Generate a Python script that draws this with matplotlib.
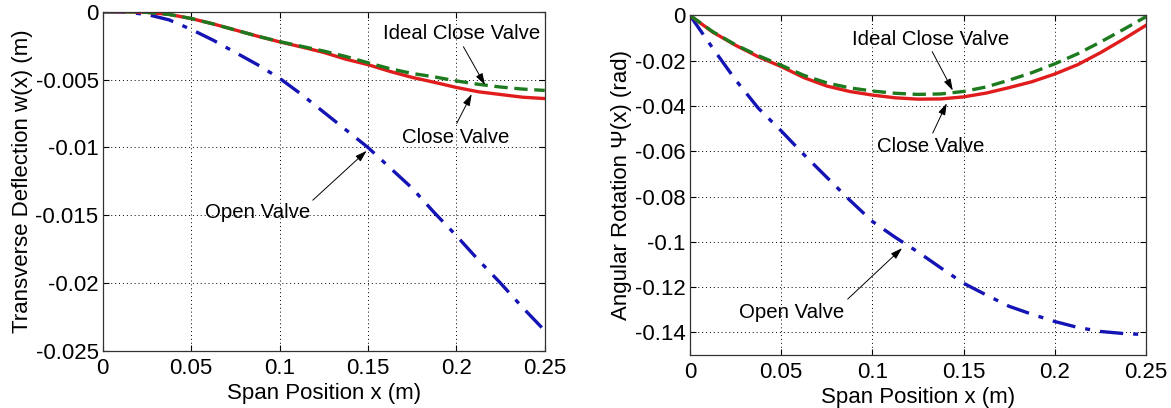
import matplotlib
matplotlib.use("Agg")
import matplotlib.pyplot as plt

plt.rcParams['font.family'] = ['Liberation Sans', 'DejaVu Sans']
plt.rcParams['axes.unicode_minus'] = False

# ---------------- data ----------------
x_span = [0, 0.0125, 0.025, 0.0375, 0.05, 0.0625, 0.075, 0.0875, 0.1, 0.1125, 0.125,
          0.1375, 0.15, 0.1625, 0.175, 0.1875, 0.2, 0.2125, 0.225, 0.2375, 0.25]

# Left: transverse deflection w(x) (m)
w_open = [0, -0.00003, -0.0002, -0.0006, -0.0013, -0.0021, -0.0030, -0.0039, -0.0049,
          -0.0061, -0.0074, -0.0087, -0.0100, -0.0115, -0.0130, -0.0148, -0.0165,
          -0.0183, -0.0200, -0.0218, -0.0235]
w_close = [0, 0, -0.00005, -0.0002, -0.0005, -0.0009, -0.00135, -0.0018, -0.00222,
           -0.0026, -0.0030, -0.0035, -0.0039, -0.0044, -0.00484, -0.0052, -0.00558,
           -0.0059, -0.0061, -0.0063, -0.0064]
w_ideal = [0, 0, -0.00005, -0.0002, -0.0005, -0.0009, -0.00135, -0.0018, -0.0022,
           -0.00255, -0.0029, -0.0033, -0.00376, -0.0042, -0.00455, -0.0048, -0.0051,
           -0.00535, -0.00555, -0.0057, -0.0058]

# Right: angular rotation psi(x) (rad)
psi_open = [0, -0.0145, -0.0285, -0.041, -0.051, -0.0615, -0.0715, -0.0815, -0.091,
            -0.098, -0.1045, -0.1115, -0.1183, -0.1235, -0.1285, -0.132, -0.1352,
            -0.1378, -0.1396, -0.1405, -0.141]
psi_close = [0, -0.0074, -0.0132, -0.0183, -0.0226, -0.0275, -0.0312, -0.0336, -0.0352,
             -0.0364, -0.0370, -0.0369, -0.0360, -0.0343, -0.0319, -0.0293, -0.0259,
             -0.0218, -0.0165, -0.0106, -0.0044]
psi_ideal = [0, -0.0072, -0.0130, -0.0178, -0.0220, -0.0265, -0.0298, -0.0320, -0.0334,
             -0.0344, -0.0349, -0.0347, -0.0336, -0.0316, -0.0286, -0.0253, -0.0214,
             -0.0170, -0.0118, -0.0063, -0.0006]

x_ticks = [0, 0.05, 0.1, 0.15, 0.2, 0.25]
x_ticklabels = ['0', '0.05', '0.1', '0.15', '0.2', '0.25']
w_ticks = [0, -0.005, -0.01, -0.015, -0.02, -0.025]
w_ticklabels = ['0', '-0.005', '-0.01', '-0.015', '-0.02', '-0.025']
psi_ticks = [0, -0.02, -0.04, -0.06, -0.08, -0.1, -0.12, -0.14]
psi_ticklabels = ['0', '-0.02', '-0.04', '-0.06', '-0.08', '-0.1', '-0.12', '-0.14']

labels = ['Open Valve', 'Close Valve', 'Ideal Close Valve']

# annotations: (text, text_xy, tail_xy, head_xy)
w_notes = [
    ('Ideal Close Valve', (0.2032, -0.0016), (0.204, -0.00258), (0.2162, -0.0054)),
    ('Close Valve', (0.1997, -0.00928), (0.2002, -0.00823), (0.2087, -0.00607)),
    ('Open Valve', (0.0879, -0.0148), (0.1188, -0.01389), (0.1493, -0.01025)),
]
psi_notes = [
    ('Ideal Close Valve', (0.1320, -0.0105), (0.1328, -0.016), (0.1441, -0.0332)),
    ('Close Valve', (0.1322, -0.0581), (0.1331, -0.052), (0.1408, -0.0388)),
    ('Open Valve', (0.0558, -0.1312), (0.0865, -0.1253), (0.1163, -0.1028)),
]

# ---------------- style ----------------
RED = '#e01c1c'
GREEN = '#1e7a1e'
BLUE = '#1414b4'
FS = 16
FS_NOTE = 14.7

fig = plt.figure(figsize=(11.71, 4.08), dpi=100)
axL = fig.add_axes([0.0877, 0.1397, 0.3775, 0.8316])
axR = fig.add_axes([0.5892, 0.1299, 0.3894, 0.8324])


def style(ax):
    ax.grid(True, color='black', linestyle=(0, (1, 3)), linewidth=0.7)
    ax.tick_params(direction='in', top=True, right=True, length=4,
                   labelsize=FS, pad=3, width=0.8)
    ax.tick_params(axis='x', pad=5)
    for s in ax.spines.values():
        s.set_linewidth(0.9)
        s.set_color('#333333')


def draw(ax, y_open, y_close, y_ideal, notes):
    ax.plot(x_span, y_open, color=BLUE, lw=2.4, linestyle=(0, (7, 3, 1.5, 3)), label=labels[0])
    ax.plot(x_span, y_close, color=RED, lw=2.4, linestyle='-', label=labels[1])
    ax.plot(x_span, y_ideal, color=GREEN, lw=2.4, linestyle=(0, (4, 2)), label=labels[2])
    for txt, txy, tail, head in notes:
        ax.text(txy[0], txy[1], txt, fontsize=FS_NOTE, ha='center', va='center')
        ax.annotate('', xy=head, xytext=tail,
                    arrowprops=dict(arrowstyle='-|>,head_length=0.7,head_width=0.22',
                                    color='black', lw=0.7, shrinkA=0, shrinkB=0))


style(axL)
draw(axL, w_open, w_close, w_ideal, w_notes)
axL.set_xlim(0, 0.25)
axL.set_ylim(-0.025, 0)
axL.set_xticks(x_ticks)
axL.set_xticklabels(x_ticklabels)
axL.set_yticks(w_ticks)
axL.set_yticklabels(w_ticklabels)
axL.set_xlabel('Span Position x (m)', fontsize=FS, labelpad=3)
axL.set_ylabel('Transverse Deflection w(x) (m)', fontsize=FS, labelpad=2)

style(axR)
draw(axR, psi_open, psi_close, psi_ideal, psi_notes)
axR.set_xlim(0, 0.25)
axR.set_ylim(-0.15, 0)
axR.set_xticks(x_ticks)
axR.set_xticklabels(x_ticklabels)
axR.set_yticks(psi_ticks)
axR.set_yticklabels(psi_ticklabels)
axR.set_xlabel('Span Position x (m)', fontsize=FS, labelpad=3)
axR.set_ylabel('Angular Rotation \u03a8(x) (rad)', fontsize=FS, labelpad=2)

fig.savefig('out.png', dpi=100)
